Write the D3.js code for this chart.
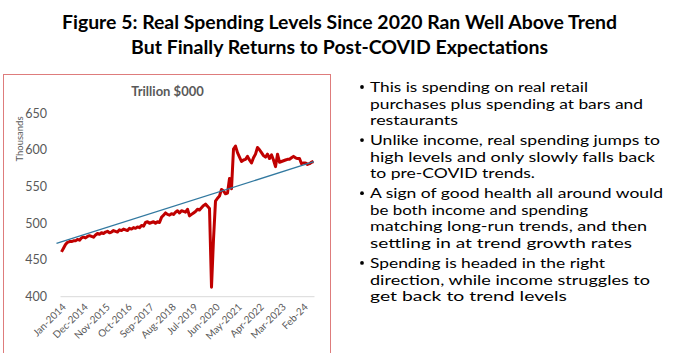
<!DOCTYPE html>
<html>
<head>
<meta charset="utf-8">
<script src="https://cdn.jsdelivr.net/npm/d3@7"></script>
<style>
  body { margin: 0; background: #fff; }
  svg { display: block; font-family: Lato, "Open Sans", sans-serif; }
</style>
</head>
<body>
<svg id="chart" width="677" height="353"></svg>
<script>
// monthly real spending, Jan-2014 .. Jul-2024 (thousands)
const spending = [
    461, 466, 471, 474, 475, 475, 476, 476, 478, 477, 480, 481,
    480, 482, 483, 482, 481, 484, 486, 485, 487, 486, 488, 489,
    487, 488, 490, 489, 488, 491, 490, 492, 491, 490, 493, 492,
    494, 493, 495, 494, 497, 496, 501, 502, 500, 501, 502, 500,
    502, 501, 508, 511, 514, 512, 511, 513, 512, 515, 517, 514,
    517, 516, 515, 519, 510, 512, 514, 516, 519, 518, 521, 524,
    526, 523, 520, 413, 478, 530, 534, 537, 546, 544, 540, 541,
    561, 547, 601, 605, 596, 590, 584, 586, 587, 591, 586, 582,
    589, 594, 603, 600, 596, 592, 590, 594, 588, 593, 586, 577,
    594, 583, 584, 585, 586, 587, 587, 589, 591, 589, 588, 588,
    581, 582, 582, 580, 581, 583, 584
];
// trend line end points (month offset from Jan-2014, value)
const trendIdx = [-2.5, 126.2];
const trendVal = [472.7, 583.7];

const tickLabels = ["Jan-2014", "Dec-2014", "Nov-2015", "Oct-2016", "Sep-2017", "Aug-2018",
    "Jul-2019", "Jun-2020", "May-2021", "Apr-2022", "Mar-2023", "Feb-24"];
const yTicks = [400, 450, 500, 550, 600, 650];

const titleLines = ["Figure 5: Real Spending Levels Since 2020 Ran Well Above Trend",
    "But Finally Returns to Post-COVID Expectations"];
const bullets = [
    ["This is spending on real retail", "purchases plus spending at bars and", "restaurants"],
    ["Unlike income, real spending jumps to", "high levels and only slowly falls back", "to pre-COVID trends."],
    ["A sign of good health all around would", "be both income and spending", "matching long-run trends, and then", "settling in at trend growth rates"],
    ["Spending is headed in the right", "direction, while income struggles to", "get  back to trend levels"]
];
// measured widths of each bullet line in the reference
const bulletWidths = [[218, 273, 88], [290, 285, 165], [293, 218, 277, 262], [235, 280, 197]];

const months = spending.map((d, i) => i);

const svg = d3.select("#chart");
svg.append("rect").attr("width", 677).attr("height", 353).attr("fill", "#fff");

// headline
svg.selectAll(".title")
    .data(titleLines)
    .join("text")
    .attr("x", 339.5)
    .attr("y", (d, i) => 29 + i * 25)
    .attr("text-anchor", "middle")
    .attr("font-size", 18.5)
    .attr("font-weight", "bold")
    .attr("textLength", (d, i) => i === 0 ? 555 : 417)
    .attr("lengthAdjust", "spacingAndGlyphs")
    .text(d => d);

// chart frame
svg.append("rect")
    .attr("x", 3.5).attr("y", 74.5)
    .attr("width", 327).attr("height", 300)
    .attr("fill", "none")
    .attr("stroke", "#de7c7c")
    .attr("stroke-width", 1);

const x = d3.scaleBand().domain(months).range([60.5, 314.5]);
const xc = i => x.range()[0] + x.step() * (i + 0.5);
const y = d3.scaleLinear().domain([400, 650]).range([296.7, 113]);

svg.append("text")
    .attr("x", 167.5).attr("y", 96)
    .attr("text-anchor", "middle")
    .attr("font-size", 13)
    .attr("font-weight", "bold")
    .attr("fill", "#595959")
    .text("Trillion $000");

svg.append("text")
    .attr("transform", "translate(23,139) rotate(-90)")
    .attr("text-anchor", "middle")
    .attr("font-size", 9.5)
    .attr("fill", "#595959")
    .text("Thousands");

// y axis labels
const yAxis = svg.append("g")
    .attr("transform", "translate(47,0)")
    .call(d3.axisLeft(y).tickValues(yTicks).tickSize(0).tickPadding(0));
yAxis.select(".domain").remove();
yAxis.selectAll("text")
    .attr("font-family", "Lato, sans-serif")
    .attr("font-size", 12.5)
    .attr("fill", "#595959");

// baseline
svg.append("line")
    .attr("x1", x.range()[0]).attr("x2", x.range()[1])
    .attr("y1", y(400)).attr("y2", y(400))
    .attr("stroke", "#d9d9d9")
    .attr("stroke-width", 1);

// x labels
svg.selectAll(".xlab")
    .data(tickLabels)
    .join("text")
    .attr("transform", (d, i) => `translate(${xc(i * 11) + 5},${y(400) + 11}) rotate(-45)`)
    .attr("text-anchor", "end")
    .attr("font-size", 10)
    .attr("fill", "#595959")
    .text(d => d);

// spending line
const line = d3.line().x((d, i) => xc(i)).y(d => y(d));
svg.append("path")
    .datum(spending)
    .attr("d", line)
    .attr("fill", "none")
    .attr("stroke", "#c00000")
    .attr("stroke-width", 3)
    .attr("stroke-linejoin", "round");

// trend line
svg.append("path")
    .datum(trendIdx.map((d, i) => [d, trendVal[i]]))
    .attr("d", d3.line().x(d => xc(d[0])).y(d => y(d[1])))
    .attr("fill", "none")
    .attr("stroke", "#3279a0")
    .attr("stroke-width", 1.3);

// bullet text
let row = 0;
bullets.forEach((para, p) => {
    const y0 = 92 + p * 3.3;
    svg.append("circle")
        .attr("cx", 362).attr("cy", y0 + row * 16.6 - 5)
        .attr("r", 1.9)
        .attr("fill", "#000");
    para.forEach((ln, k) => {
        svg.append("text")
            .attr("x", 370)
            .attr("y", y0 + row * 16.6)
            .attr("font-size", 14.3)
            .attr("textLength", bulletWidths[p][k])
            .attr("lengthAdjust", "spacingAndGlyphs")
            .text(ln);
        row++;
    });
});
</script>
</body>
</html>
